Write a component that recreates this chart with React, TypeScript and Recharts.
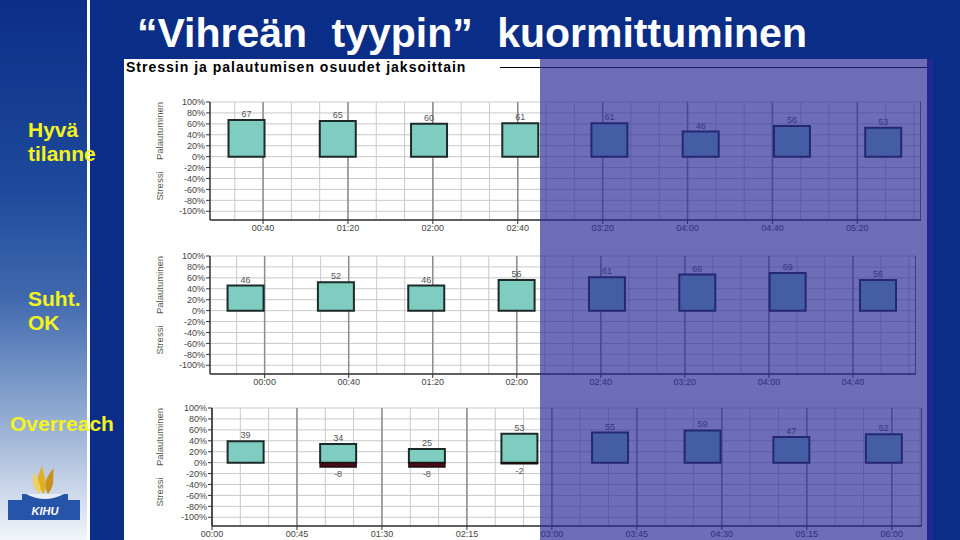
import React from "react"
import { BarChart, Bar, XAxis, YAxis, CartesianGrid, LabelList, ReferenceLine } from "recharts"

// bar centres in minutes, recovery (+) and stress (-) shares in %
const times1 = [32, 75, 118, 161, 203, 246, 289, 332]
const recovery1 = [67, 65, 60, 61, 61, 46, 56, 53]
const stress1 = [0, 0, 0, 0, 0, 0, 0, 0]
const ticks1 = [40, 80, 120, 160, 200, 240, 280, 320]

const times2 = [-9, 34, 77, 120, 163, 206, 249, 292]
const recovery2 = [46, 52, 46, 56, 61, 66, 69, 56]
const stress2 = [0, 0, 0, 0, 0, 0, 0, 0]
const ticks2 = [0, 40, 80, 120, 160, 200, 240, 280]

const times3 = [18, 67, 114, 163, 211, 260, 307, 356]
const recovery3 = [39, 34, 25, 53, 55, 59, 47, 52]
const stress3 = [0, -8, -8, -2, 0, 0, 0, 0]
const ticks3 = [0, 45, 90, 135, 180, 225, 270, 315, 360]

const yTicks = [-100, -80, -60, -40, -20, 0, 20, 40, 60, 80, 100]

const FONT = "'Liberation Sans', Arial, sans-serif"
const DARK_BLUE = "#0a2d87"
const TEAL = "#7fcdc0"
const MAROON = "#4e0a14"

const hhmm = (m: number) => {
  const h = Math.floor(m / 60)
  const mm = m % 60
  return `${String(h).padStart(2, "0")}:${String(mm).padStart(2, "0")}`
}

interface ChartProps {
  times: number[]
  recovery: number[]
  stress: number[]
  ticks: number[]
  domain: [number, number]
  top: number
  plotLeft: number
  plotRight: number
}

const PeriodChart: React.FC<ChartProps> = ({ times, recovery, stress, ticks, domain, top, plotLeft, plotRight }) => {
  const data = times.map((t, i) => ({ t, rec: recovery[i], str: stress[i] }))
  const step = (ticks[1] - ticks[0]) / 3
  const minor: number[] = []
  for (let v = ticks[0] - 3 * step; v <= domain[1]; v += step) {
    if (v >= domain[0]) minor.push(v)
  }
  const toX = (values: number[]) => (props: any) => {
    const scale = props?.xAxis?.scale
    if (typeof scale === "function") return values.map((v) => scale(v))
    const { left, width } = props.offset
    return values.map((v) => left + ((v - domain[0]) / (domain[1] - domain[0])) * width)
  }
  const left = 124
  const marginTop = 30
  const plotH = 118
  const zeroY = top + marginTop + plotH * (100 / 216)
  const axisLabel: React.CSSProperties = {
    position: "absolute",
    left: 159,
    fontFamily: FONT,
    fontSize: 9.5,
    color: "#555",
    transform: "translate(-50%, -50%) rotate(-90deg)",
    whiteSpace: "nowrap",
  }
  const tickStyle = { fontSize: 9, fill: "#444", fontFamily: FONT }
  return (
    <>
      <div style={{ position: "absolute", left, top }}>
        <BarChart
          width={plotRight - left}
          height={marginTop + plotH + 22}
          data={data}
          stackOffset="sign"
          margin={{ top: marginTop, right: 0, left: 0, bottom: 0 }}
        >
          <CartesianGrid stroke="#c9c9c9" verticalCoordinatesGenerator={toX(minor)} />
          <CartesianGrid stroke="#8c8c8c" strokeWidth={1.5} horizontal={false} verticalCoordinatesGenerator={toX(ticks)} />
          <XAxis
            dataKey="t"
            type="number"
            domain={domain}
            ticks={ticks}
            interval={0}
            allowDataOverflow
            tickFormatter={hhmm}
            tick={tickStyle}
            tickSize={4}
            tickMargin={1}
            height={22}
            stroke="#333"
            axisLine={{ stroke: "#333", strokeWidth: 1.5 }}
          />
          <YAxis
            domain={[-116, 100]}
            ticks={yTicks}
            interval={0}
            allowDataOverflow
            tickFormatter={(v: number) => `${v}%`}
            tick={tickStyle}
            tickSize={4}
            tickMargin={1}
            width={plotLeft - left}
            stroke="#333"
            axisLine={{ stroke: "#333", strokeWidth: 1.5 }}
          />
          <ReferenceLine x={domain[1]} stroke="#333" strokeWidth={1.5} />
          <Bar dataKey="rec" stackId="a" barSize={36} fill={TEAL} stroke="#1c2b29" strokeWidth={2} isAnimationActive={false}>
            <LabelList dataKey="rec" position="top" offset={3} style={{ fontSize: 9, fill: "#555", fontFamily: FONT }} />
          </Bar>
          <Bar dataKey="str" stackId="a" barSize={36} fill={MAROON} stroke="#1c1010" strokeWidth={1.5} isAnimationActive={false}>
            <LabelList
              dataKey="str"
              position="top"
              offset={4}
              formatter={(v: any) => (v ? v : "")}
              style={{ fontSize: 9, fill: "#555", fontFamily: FONT }}
            />
          </Bar>
        </BarChart>
      </div>
      <div style={{ ...axisLabel, top: zeroY - 26 }}>Palautuminen</div>
      <div style={{ ...axisLabel, top: zeroY + 29 }}>Stressi</div>
    </>
  )
}

const sideText: React.CSSProperties = {
  position: "absolute",
  fontFamily: FONT,
  fontWeight: "bold",
  fontSize: 21,
  lineHeight: "24px",
  color: "#f4f41c",
  whiteSpace: "nowrap",
}

export default function App() {
  return (
    <div style={{ position: "absolute", left: 0, top: 0, width: 960, height: 540, overflow: "hidden", background: DARK_BLUE }}>
      {/* left gradient panel */}
      <div
        style={{
          position: "absolute",
          left: 0,
          top: 0,
          width: 87,
          height: 540,
          background: "linear-gradient(#0b2e86 0%, #1d4a9c 35%, #3f68ae 55%, #9db4d6 80%, #f2f5fa 100%)",
        }}
      />
      <div style={{ position: "absolute", left: 87, top: 0, width: 3, height: 540, background: "#fff" }} />
      {/* title */}
      <div
        style={{
          position: "absolute",
          left: 137,
          top: 10,
          fontFamily: FONT,
          fontWeight: "bold",
          fontSize: 41,
          lineHeight: "46px",
          wordSpacing: 13,
          color: "#fff",
          whiteSpace: "nowrap",
        }}
      >
        “Vihreän tyypin” kuormittuminen
      </div>
      {/* white chart sheet */}
      <div style={{ position: "absolute", left: 124, top: 59, width: 803, height: 481, background: "#fff" }} />
      <div
        style={{
          position: "absolute",
          left: 126,
          top: 59,
          fontFamily: FONT,
          fontWeight: "bold",
          fontSize: 14,
          letterSpacing: 1,
          color: "#000",
          whiteSpace: "nowrap",
        }}
      >
        Stressin ja palautumisen osuudet jaksoittain
      </div>
      <div style={{ position: "absolute", left: 500, top: 67, width: 427, height: 1, background: "#000" }} />

      <PeriodChart times={times1} recovery={recovery1} stress={stress1} ticks={ticks1} domain={[15, 350]} top={72} plotLeft={210} plotRight={921} />
      <PeriodChart times={times2} recovery={recovery2} stress={stress2} ticks={ticks2} domain={[-26, 310]} top={226} plotLeft={210} plotRight={916} />
      <PeriodChart times={times3} recovery={recovery3} stress={stress3} ticks={ticks3} domain={[0, 376]} top={378} plotLeft={212} plotRight={922} />

      {/* purple highlight */}
      <div style={{ position: "absolute", left: 540, top: 58, width: 393, height: 482, background: "rgba(40,40,150,0.68)" }} />

      {/* side notes */}
      <div style={{ ...sideText, left: 28, top: 118 }}>Hyvä<br />tilanne</div>
      <div style={{ ...sideText, left: 28, top: 287 }}>Suht.<br />OK</div>
      <div style={{ ...sideText, left: 10, top: 412 }}>Overreach</div>

      {/* logo */}
      <svg style={{ position: "absolute", left: 4, top: 462 }} width={82} height={62}>
        <path d="M40 32 C30 22 34 14 38 4 C40 14 44 20 40 32 Z" fill="#e0b020" />
        <path d="M44 32 C38 22 44 12 50 6 C48 16 52 22 44 32 Z" fill="#c8901c" />
        <path d="M36 32 C28 26 28 18 30 10 C34 18 38 24 36 32 Z" fill="#f0d060" />
        <path d="M18 32 L64 32 L64 38 L76 38 L76 58 L4 58 L4 38 L18 38 Z" fill="#2654a8" />
        <path d="M22 32 Q41 42 60 32 Z" fill="#e8eef6" />
        <text x={41} y={53} textAnchor="middle" fontFamily={FONT} fontStyle="italic" fontWeight="bold" fontSize={11} fill="#fff">
          KIHU
        </text>
      </svg>
    </div>
  )
}
